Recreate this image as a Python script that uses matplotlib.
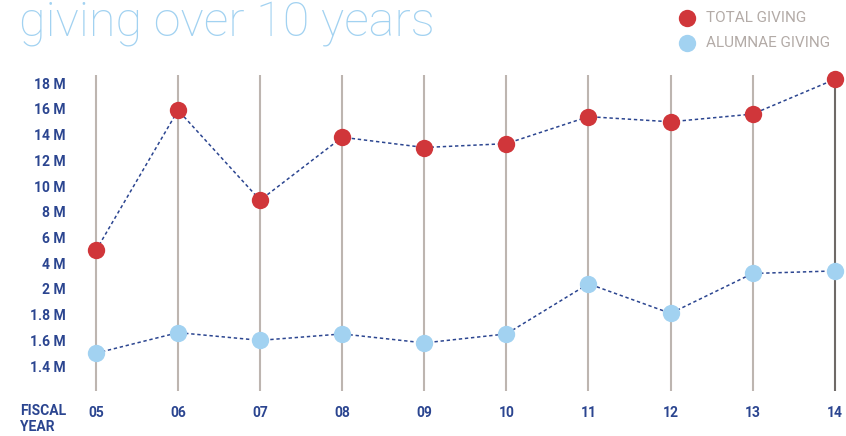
import matplotlib

matplotlib.use("Agg")
import matplotlib.pyplot as plt
import numpy as np

# --- data (millions) ------------------------------------------------------
years = ["05", "06", "07", "08", "09", "10", "11", "12", "13", "14"]
total_giving = [5.0, 15.9, 8.9, 13.8, 13.0, 13.3, 15.4, 15.0, 15.6, 18.3]
alumnae_giving = [1.50, 1.66, 1.60, 1.65, 1.58, 1.65, 2.4, 1.81, 3.2, 3.4]

# the y axis is a stepped scale: equally spaced labels, uneven values
tick_vals = [1.4, 1.6, 1.8, 2, 4, 6, 8, 10, 12, 14, 16, 18]
tick_labels = ["1.4 M", "1.6 M", "1.8 M", "2 M", "4 M", "6 M", "8 M",
               "10 M", "12 M", "14 M", "16 M", "18 M"]

NAVY = "#2b4590"
RED = "#d0363a"
LIGHT_BLUE = "#a2d2f1"
GRID = "#bdb5b0"
GREY_TEXT = "#b3aba7"

# breakpoints of the stepped scale, padded one step at each end
scale_vals = np.array([1.2] + tick_vals + [20.0])
scale_idx = np.arange(-1, len(tick_vals) + 1, dtype=float)


def forward(v):
    return np.interp(v, scale_vals, scale_idx)


def inverse(i):
    return np.interp(i, scale_idx, scale_vals)


W, H = 846, 436
fig = plt.figure(figsize=(W / 100, H / 100), dpi=100)
ax = fig.add_axes([70 / W, 1 - 391 / H, (845 - 70) / W, (391 - 75) / H])
ax.set_yscale("function", functions=(forward, inverse))

x = np.arange(len(years))
for i in x:
    ax.axvline(i, color="#6f6a67" if i == x[-1] else GRID, lw=1.5, zorder=1)

line_kw = dict(color=NAVY, lw=1.1, ls=(0, (2.2, 1.8)), marker="o", ms=12.5,
               mew=0, clip_on=False, zorder=3)
ax.plot(x, total_giving, mfc=RED, **line_kw)
ax.plot(x, alumnae_giving, mfc=LIGHT_BLUE, **line_kw)

ax.set_xlim(-(96 - 70) / 82.08, 9 + (845 - 834.7) / 82.08)
ax.set_ylim(inverse(-0.97), inverse(11.32))
ax.set_yticks(tick_vals)
ax.set_yticklabels(tick_labels)
ax.set_xticks(x)
ax.set_xticklabels(years)
ax.yaxis.set_minor_locator(matplotlib.ticker.NullLocator())
ax.tick_params(axis="y", length=0, pad=3, labelsize=10, labelcolor=NAVY)
ax.tick_params(axis="x", length=0, pad=11, labelsize=10, labelcolor=NAVY)
for lab in ax.get_xticklabels() + ax.get_yticklabels():
    lab.set_fontfamily("Roboto")
    lab.set_fontweight("bold")
for s in ax.spines.values():
    s.set_visible(False)

fig.text(20 / W, 1 - 404 / H, "FISCAL\nYEAR", ha="left", va="top",
         fontsize=10, fontweight="bold", color=NAVY, family="Roboto",
         linespacing=1.15)

# title
fig.text(19 / W, 1 - 36 / H, "giving over 10 years", ha="left",
         va="baseline", fontsize=35, fontweight="light", color=LIGHT_BLUE,
         family="Roboto")

# legend, hand placed like the original
for yy, col, txt in [(18.3, RED, "TOTAL GIVING"),
                     (43.3, LIGHT_BLUE, "ALUMNAE GIVING")]:
    fig.add_artist(plt.Line2D([686.7 / W], [1 - yy / H], marker="o", ms=12.5,
                              mew=0, mfc=col, ls="none"))
    fig.text(706 / W, 1 - yy / H, txt, ha="left", va="center", fontsize=11,
             color=GREY_TEXT, family="Roboto")

fig.savefig("out.png", dpi=100)
